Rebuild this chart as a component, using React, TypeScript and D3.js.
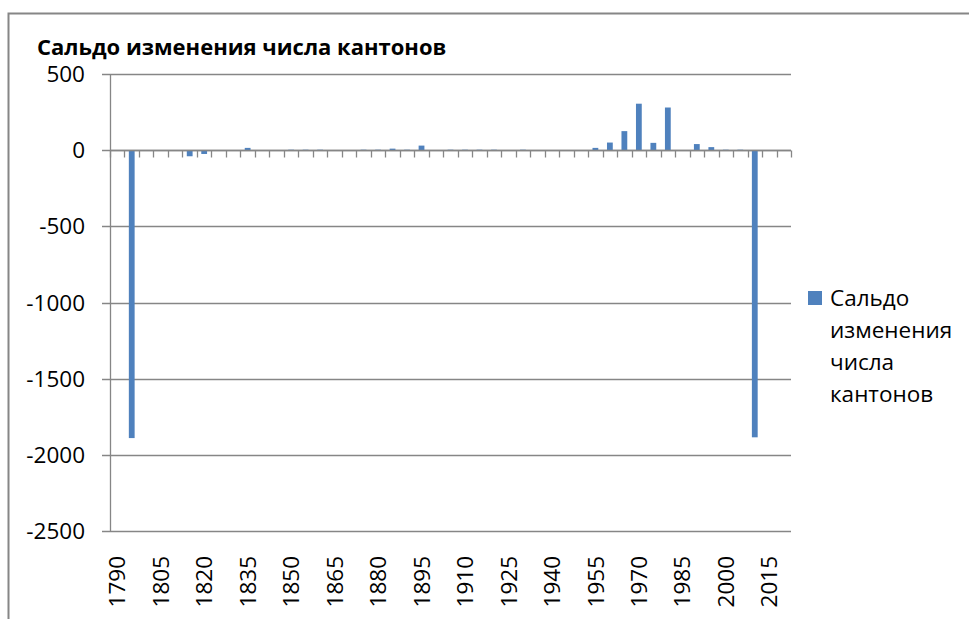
import React, { useEffect, useRef } from 'react';
import * as d3 from 'd3';

const years: string[] = d3.range(1790, 2025, 5).map(String);
const values: number[] = [
  0, -1890, 0, 0, 0, -40, -25, 0, 0, 15,
  0, 0, 3, 3, 3, 0, 0, 3, 3, 10,
  3, 30, 0, 3, 3, 3, 3, 0, 3, 0,
  0, 0, 0, 15, 50, 125, 305, 48, 280, 0,
  40, 20, 3, 3, -1885, 0, 0,
];
const yTicks: number[] = [500, 0, -500, -1000, -1500, -2000, -2500];
const shownYears: string[] = ['1790', '1805', '1820', '1835', '1850', '1865', '1880', '1895', '1910', '1925', '1940', '1955', '1970', '1985', '2000', '2015'];
const title = 'Сальдо изменения числа кантонов';
const legendLines: string[] = ['Сальдо', 'изменения', 'числа', 'кантонов'];

const FONT = '"Open Sans", "Noto Sans", sans-serif';

const App: React.FC = () => {
  const ref = useRef<SVGSVGElement | null>(null);

  useEffect(() => {
    if (!ref.current) return;
    const svg = d3.select(ref.current);
    svg.selectAll('*').remove();

    const left = 110, right = 791, top = 74, bottom = 531;

    const x = d3.scaleBand().domain(years).range([left, right]).paddingInner(0.6).paddingOuter(0.3);
    const band = d3.scaleBand().domain(years).range([left, right]);
    const y = d3.scaleLinear().domain([-2500, 500]).range([bottom, top]);

    // chart border
    svg.append('rect')
      .attr('x', 8.5).attr('y', 13.5).attr('width', 1000).attr('height', 700)
      .attr('fill', 'none').attr('stroke', '#868686').attr('stroke-width', 2);

    svg.append('text')
      .attr('x', 37).attr('y', 55)
      .attr('font-family', FONT).attr('font-weight', 'bold').attr('font-size', 22)
      .attr('fill', '#000')
      .text(title);

    // gridlines + y axis labels
    yTicks.forEach((t) => {
      svg.append('line')
        .attr('x1', left - 8).attr('x2', right)
        .attr('y1', Math.round(y(t)) + 0.5).attr('y2', Math.round(y(t)) + 0.5)
        .attr('stroke', '#868686').attr('stroke-width', 1.3);
      svg.append('text')
        .attr('x', 85).attr('y', y(t))
        .attr('dy', '0.36em')
        .attr('text-anchor', 'end')
        .attr('font-family', FONT).attr('font-size', 22.5)
        .text(String(t));
    });

    // y axis line
    svg.append('line')
      .attr('x1', left + 0.5).attr('x2', left + 0.5)
      .attr('y1', top).attr('y2', bottom)
      .attr('stroke', '#868686').attr('stroke-width', 1.3);

    // bars
    svg.append('g')
      .selectAll('rect')
      .data(values)
      .enter()
      .append('rect')
      .attr('x', (_, i) => x(years[i])!)
      .attr('width', x.bandwidth())
      .attr('y', (d) => y(Math.max(0, d)))
      .attr('height', (d) => Math.abs(y(d) - y(0)))
      .attr('fill', '#4F81BD');

    // category axis at zero with tick marks between categories
    const y0 = Math.round(y(0)) + 0.5;
    svg.append('line')
      .attr('x1', left).attr('x2', right)
      .attr('y1', y0).attr('y2', y0)
      .attr('stroke', '#868686').attr('stroke-width', 1.5);
    const tickXs = years.map((yr) => band(yr)!).concat([right]);
    svg.append('g')
      .selectAll('line')
      .data(tickXs)
      .enter()
      .append('line')
      .attr('x1', (d) => Math.round(d) + 0.5).attr('x2', (d) => Math.round(d) + 0.5)
      .attr('y1', y0).attr('y2', y0 + 7)
      .attr('stroke', '#868686').attr('stroke-width', 1.3);

    // x labels (every third category)
    svg.append('g')
      .selectAll('text')
      .data(shownYears)
      .enter()
      .append('text')
      .attr('transform', (d) => `translate(${band(d)! + band.bandwidth() / 2},556) rotate(-90)`)
      .attr('dy', '0.36em')
      .attr('text-anchor', 'end')
      .attr('font-family', FONT).attr('font-size', 22.5)
      .text((d) => d);

    // legend
    svg.append('rect')
      .attr('x', 808).attr('y', 291).attr('width', 14).attr('height', 14)
      .attr('fill', '#4F81BD');
    legendLines.forEach((line, i) => {
      svg.append('text')
        .attr('x', 830).attr('y', 306 + i * 32)
        .attr('font-family', FONT).attr('font-size', 22.5)
        .text(line);
    });
  }, []);

  return (
    <svg
      ref={ref}
      width={969}
      height={619}
      style={{ position: 'absolute', left: 0, top: 0, background: '#fff' }}
    ></svg>
  );
};

export default App;
